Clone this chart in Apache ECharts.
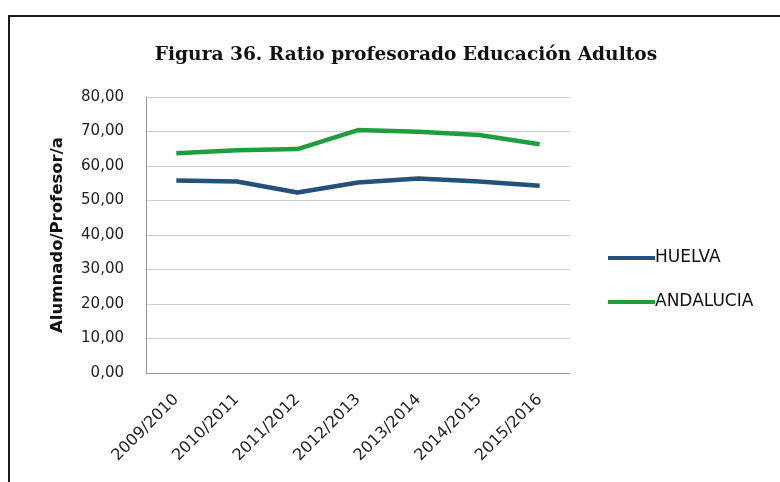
<!DOCTYPE html>
<html><head><meta charset="utf-8">
<script src="https://cdn.jsdelivr.net/npm/echarts@6/dist/echarts.min.js"></script>
<style>html,body{margin:0;padding:0;background:#fff}#c{width:780px;height:482px}</style>
</head><body><div id="c"></div>
<script>
const categories = ['2009/2010','2010/2011','2011/2012','2012/2013','2013/2014','2014/2015','2015/2016'];
const huelva = [55.8, 55.5, 52.3, 55.2, 56.4, 55.5, 54.3];
const andalucia = [63.7, 64.6, 64.9, 70.4, 69.9, 69.0, 66.3];
const yTicks = {min: 0, max: 80, interval: 10};

const chart = echarts.init(document.getElementById('c'));
chart.setOption({
  animation: false,
  title: {
    text: 'Figura 36. Ratio profesorado Educación Adultos',
    left: 401, top: 41, textAlign: 'center',
    textStyle: {fontFamily: 'DejaVu Serif', fontWeight: 'bold', fontSize: 18.6, color: '#111'}
  },
  graphic: [{
    type: 'rect', shape: {x: 9, y: 16, width: 820, height: 520},
    style: {fill: 'none', stroke: '#1a1a1a', lineWidth: 2}
  }],
  legend: {
    orient: 'vertical', left: 603, top: 244, itemGap: 26,
    icon: 'rect', itemWidth: 47, itemHeight: 4,
    textStyle: {fontFamily: 'DejaVu Sans', fontSize: 17, lineHeight: 18, color: '#111', padding: [0,0,0,-5]},
    data: ['HUELVA', 'ANDALUCIA']
  },
  grid: {left: 146, top: 97, width: 424, height: 276, containLabel: false},
  xAxis: {
    type: 'category', data: categories, boundaryGap: true,
    axisLine: {lineStyle: {color: '#9a9a9a'}},
    axisTick: {show: false},
    axisLabel: {rotate: 45, fontFamily: 'DejaVu Sans', fontSize: 16, color: '#222', margin: 24}
  },
  yAxis: {
    type: 'value', min: yTicks.min, max: yTicks.max, interval: yTicks.interval,
    name: 'Alumnado/Profesor/a', nameLocation: 'middle', nameGap: 80, nameRotate: 90,
    nameTextStyle: {fontFamily: 'DejaVu Sans', fontWeight: 'bold', fontSize: 16.5, color: '#111'},
    axisLine: {show: true, lineStyle: {color: '#9a9a9a'}},
    axisTick: {show: false},
    splitLine: {lineStyle: {color: '#d0d0d0', width: 1}},
    axisLabel: {fontFamily: 'DejaVu Sans', fontSize: 15, color: '#222', margin: 22,
      formatter: v => v.toFixed(2).replace('.', ',')}
  },
  series: [
    {name: 'HUELVA', type: 'line', data: huelva, symbol: 'none',
     lineStyle: {color: '#24507c', width: 4.5}, itemStyle: {color: '#24507c'}},
    {name: 'ANDALUCIA', type: 'line', data: andalucia, symbol: 'none',
     lineStyle: {color: '#1f9e3e', width: 4.5}, itemStyle: {color: '#1f9e3e'}}
  ]
});
</script></body></html>
